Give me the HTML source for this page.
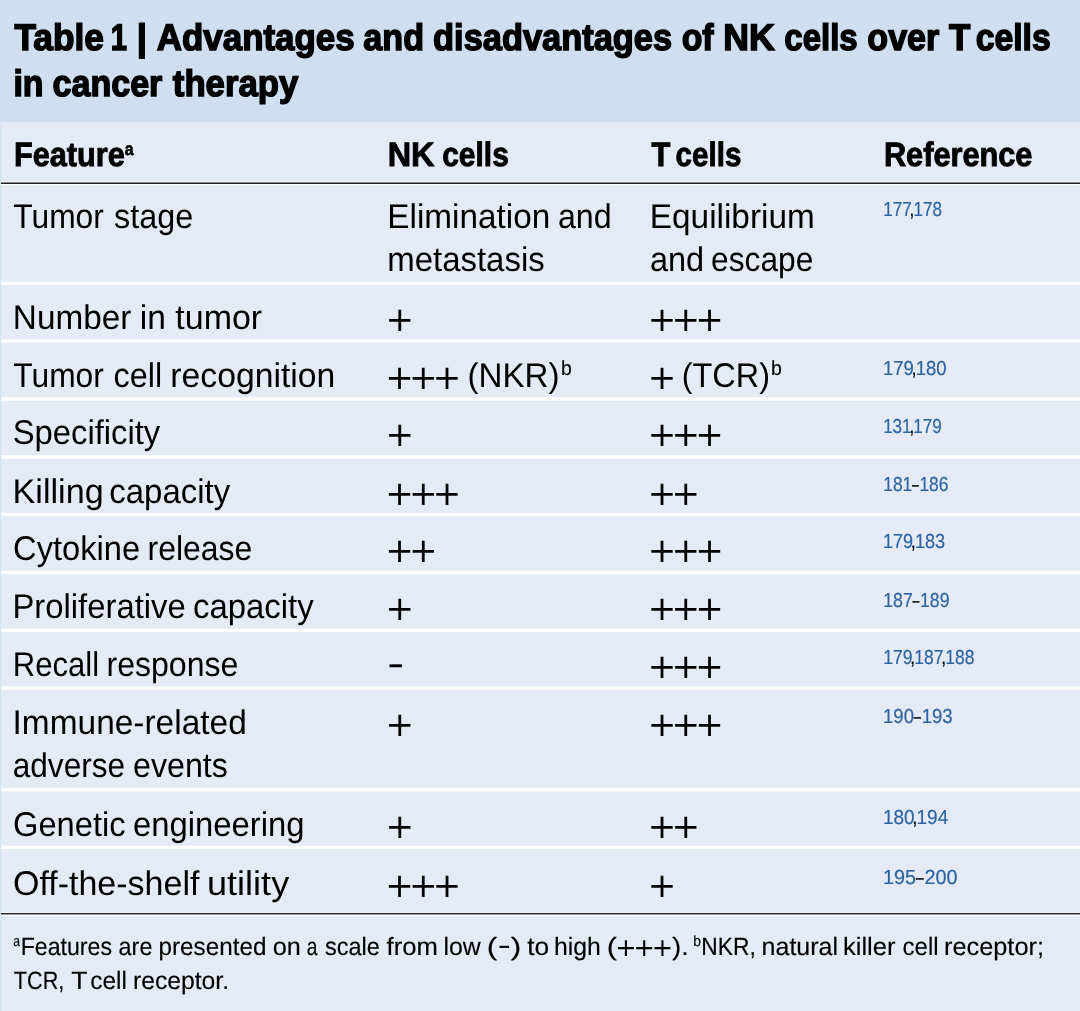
<!DOCTYPE html>
<html lang="en">
<head>
<meta charset="utf-8">
<meta name="viewport" content="width=1080">
<title>Table 1 | Advantages and disadvantages of NK cells over T cells in cancer therapy</title>
<style>

html,body{margin:0;padding:0;background:#e4ebf6}
body{width:1080px;height:1011px;position:relative;overflow:hidden;background:#e4ebf6}
.t{position:absolute;left:0;top:0;white-space:pre;line-height:60px;transform-origin:0 0;margin:0;padding:0;display:block;text-rendering:geometricPrecision}
.t a{color:inherit;text-decoration:none}
.title{font-family:"Liberation Sans", sans-serif;font-size:37.0px;font-weight:700;color:#000;-webkit-text-stroke:1.5px #000}
.head{font-family:"Liberation Sans", sans-serif;font-size:33.8px;font-weight:700;color:#000;-webkit-text-stroke:0.9px #000}
.body{font-family:"Liberation Sans", sans-serif;font-size:34.3px;font-weight:400;color:#000}
.ref{font-family:"Liberation Sans", sans-serif;font-size:20.3px;font-weight:400;color:#000;-webkit-text-stroke:0.2px #000}
.foot{font-family:"Liberation Sans", sans-serif;font-size:25.0px;font-weight:400;color:#000;-webkit-text-stroke:0.15px #000}
.sup{font-family:"Liberation Sans", sans-serif;font-size:20.4px;font-weight:400;color:#000;-webkit-text-stroke:0.15px #000}
.supf{font-family:"Liberation Sans", sans-serif;font-size:14.9px;font-weight:400;color:#000;-webkit-text-stroke:0.15px #000}
.suph{font-family:"Liberation Sans", sans-serif;font-size:18.0px;font-weight:700;color:#000;-webkit-text-stroke:0.6px #000}
.plus{font-family:"DejaVu Sans", sans-serif;font-size:34.0px;font-weight:400;color:#000}
.plusf{font-family:"DejaVu Sans", sans-serif;font-size:25.1px;font-weight:400;color:#000}
.dash{font-family:"Liberation Sans", sans-serif;font-size:40.0px;font-weight:400;color:#000}
.dashf{font-family:"Liberation Sans", sans-serif;font-size:30.0px;font-weight:400;color:#000}
.bg{position:absolute;left:0;top:0;display:block}
.ref a{color:#2f64a3;-webkit-text-stroke-color:#2f64a3}
.ref i{display:inline-block;font-style:normal;transform:scaleX(.7);margin:0 -1.45px}
.ref b{font-weight:inherit;margin:0 -1px 0 -2.6px}
h1,p{margin:0;padding:0;font:inherit}

</style>
</head>
<body>
<svg class="bg" width="1080" height="1011" viewBox="0 0 1080 1011" aria-hidden="true">
<rect x="0" y="0" width="1080" height="1011" fill="#e4ebf6"/>
<rect x="0" y="0" width="1.35" height="1011" fill="#d6e3f2"/>
<rect x="0" y="0" width="1080" height="122.4" fill="#cfdfef"/>
<rect x="0" y="122.4" width="1080" height="1.2" fill="#e3edf6" opacity=".6"/>
<rect x="1.1" y="281.65" width="1079" height="3.3" fill="#fff"/>
<rect x="1.1" y="339.45" width="1079" height="3.3" fill="#fff"/>
<rect x="1.1" y="397.35" width="1079" height="3.3" fill="#fff"/>
<rect x="1.1" y="455.20" width="1079" height="3.3" fill="#fff"/>
<rect x="1.1" y="512.95" width="1079" height="3.3" fill="#fff"/>
<rect x="1.1" y="570.85" width="1079" height="3.3" fill="#fff"/>
<rect x="1.1" y="628.85" width="1079" height="3.3" fill="#fff"/>
<rect x="1.1" y="686.40" width="1079" height="3.3" fill="#fff"/>
<rect x="1.1" y="787.85" width="1079" height="3.3" fill="#fff"/>
<rect x="1.1" y="845.80" width="1079" height="3.3" fill="#fff"/>
<rect x="1.1" y="181.7" width="1079" height="3.5" fill="#fff" opacity=".9"/>
<rect x="0.9" y="182.45" width="1080" height="1.55" fill="#232528"/>
<rect x="1.1" y="911.9" width="1079" height="3.9" fill="#fff" opacity=".95"/>
<rect x="0.9" y="912.95" width="1080" height="1.5" fill="#232528"/>
</svg>
<main class="tbl" role="table" aria-label="Advantages and disadvantages of NK cells over T cells in cancer therapy">
<h1 class="cap">
<span class="t title" style="transform:translate(14.4px,8px) scaleX(0.9533)">Table </span>
<span class="t title" style="transform:translate(110.72px,8px) scaleX(0.7888)">1 </span>
<span class="t title" style="transform:translate(136.82px,8px) scaleX(0.992)">| </span>
<span class="t title" style="transform:translate(156.85px,8px) scaleX(0.943)">Advantages </span>
<span class="t title" style="transform:translate(363.34px,8px) scaleX(0.9233)">and </span>
<span class="t title" style="transform:translate(433.1px,8px) scaleX(0.9295)">disadvantages </span>
<span class="t title" style="transform:translate(681.71px,8px) scaleX(0.9137)">of </span>
<span class="t title" style="transform:translate(723.36px,8px) scaleX(0.9631)">NK </span>
<span class="t title" style="transform:translate(784.33px,8px) scaleX(0.8916)">cells </span>
<span class="t title" style="transform:translate(867.31px,8px) scaleX(0.921)">over </span>
<span class="t title" style="transform:translate(949.08px,8px) scaleX(0.9455)">T </span>
<span class="t title" style="transform:translate(975.76px,8px) scaleX(0.911)">cells </span>
<span class="t title" style="transform:translate(13.38px,54px) scaleX(0.9157)">in </span>
<span class="t title" style="transform:translate(52.61px,54px) scaleX(0.9196)">cancer </span>
<span class="t title" style="transform:translate(172.83px,54px) scaleX(0.9386)">therapy</span>
</h1>
<div class="hd" role="row">
<div class="c1" role="columnheader"><span class="t head" style="transform:translate(13.91px,125px) scaleX(0.9078)">Feature</span><span class="t suph" style="transform:translate(124.78px,119px) scaleX(0.878)">a</span></div>
<div class="c2" role="columnheader"><span class="t head" style="transform:translate(387.67px,125px) scaleX(0.9597)">NK </span><span class="t head" style="transform:translate(442.22px,125px) scaleX(0.8859)">cells</span></div>
<div class="c3" role="columnheader"><span class="t head" style="transform:translate(651.46px,125px) scaleX(0.913)">T </span><span class="t head" style="transform:translate(675.59px,125px) scaleX(0.8743)">cells</span></div>
<div class="c4" role="columnheader"><span class="t head" style="transform:translate(883.91px,125px) scaleX(0.9087)">Reference</span></div>
</div>
<div class="tr" role="row">
<div class="c1" role="rowheader"><span class="t body" style="transform:translate(13.31px,187px) scaleX(0.9254)">Tumor </span><span class="t body" style="transform:translate(114.06px,187px) scaleX(0.9438)">stage</span></div>
<div class="c2" role="cell"><span class="t body" style="transform:translate(387.33px,187px) scaleX(0.9708)">Elimination </span><span class="t body" style="transform:translate(557.89px,187px) scaleX(0.9383)">and </span><span class="t body" style="transform:translate(387.19px,230px) scaleX(0.961)">metastasis</span></div>
<div class="c3" role="cell"><span class="t body" style="transform:translate(649.83px,187px) scaleX(0.9719)">Equilibrium </span><span class="t body" style="transform:translate(649.88px,230px) scaleX(0.9477)">and </span><span class="t body" style="transform:translate(711.11px,230px) scaleX(0.9237)">escape</span></div>
<div class="c4" role="cell"><span class="t ref" style="transform:translate(883.13px,180px) scaleX(0.8436)"><a>177</a><b>,</b><a>178</a></span></div>
</div>
<div class="tr" role="row">
<div class="c1" role="rowheader"><span class="t body" style="transform:translate(12.83px,288px) scaleX(0.972)">Number </span><span class="t body" style="transform:translate(139.8px,288px) scaleX(0.9798)">in </span><span class="t body" style="transform:translate(175.3px,288px) scaleX(0.9905)">tumor</span></div>
<div class="c2" role="cell"><span class="t plus" style="transform:translate(385.4px,290px) scaleX(1.0024);letter-spacing:-4.81px">+</span></div>
<div class="c3" role="cell"><span class="t plus" style="transform:translate(647.79px,290px) scaleX(1.0024);letter-spacing:-4.84px">+++</span></div>
<div class="c4" role="cell"></div>
</div>
<div class="tr" role="row">
<div class="c1" role="rowheader"><span class="t body" style="transform:translate(13.31px,346px) scaleX(0.9254)">Tumor </span><span class="t body" style="transform:translate(113.58px,346px) scaleX(0.9449)">cell </span><span class="t body" style="transform:translate(170.29px,346px) scaleX(0.9832)">recognition</span></div>
<div class="c2" role="cell"><span class="t plus" style="transform:translate(385.3px,348px) scaleX(1.0024);letter-spacing:-4.81px">+++ </span><span class="t body" style="transform:translate(467.45px,346px) scaleX(0.967)">(NKR)</span><span class="t sup" style="transform:translate(561.01px,339px) scaleX(0.9514)">b</span></div>
<div class="c3" role="cell"><span class="t plus" style="transform:translate(647.79px,348px) scaleX(1.0024);letter-spacing:-4.81px">+ </span><span class="t body" style="transform:translate(681.79px,346px) scaleX(0.9447)">(TCR)</span><span class="t sup" style="transform:translate(771.09px,339px) scaleX(0.9546)">b</span></div>
<div class="c4" role="cell"><span class="t ref" style="transform:translate(883.03px,339px) scaleX(0.9121)"><a>179</a><b>,</b><a>180</a></span></div>
</div>
<div class="tr" role="row">
<div class="c1" role="rowheader"><span class="t body" style="transform:translate(12.65px,403px) scaleX(0.9559)">Specificity</span></div>
<div class="c2" role="cell"><span class="t plus" style="transform:translate(385.4px,405px) scaleX(1.0024);letter-spacing:-4.81px">+</span></div>
<div class="c3" role="cell"><span class="t plus" style="transform:translate(647.79px,405px) scaleX(1.0024);letter-spacing:-4.84px">+++</span></div>
<div class="c4" role="cell"><span class="t ref" style="transform:translate(883.13px,397px) scaleX(0.8405)"><a>131</a><b>,</b><a>179</a></span></div>
</div>
<div class="tr" role="row">
<div class="c1" role="rowheader"><span class="t body" style="transform:translate(12.56px,462px) scaleX(0.9954)">Killing </span><span class="t body" style="transform:translate(109.36px,462px) scaleX(0.9595)">capacity</span></div>
<div class="c2" role="cell"><span class="t plus" style="transform:translate(385.3px,464px) scaleX(1.0024);letter-spacing:-4.81px">+++</span></div>
<div class="c3" role="cell"><span class="t plus" style="transform:translate(647.79px,464px) scaleX(1.0024);letter-spacing:-4.82px">++</span></div>
<div class="c4" role="cell"><span class="t ref" style="transform:translate(883.26px,455px) scaleX(0.8558)"><a>181</a><i>–</i><a>186</a></span></div>
</div>
<div class="tr" role="row">
<div class="c1" role="rowheader"><span class="t body" style="transform:translate(13.1px,519px) scaleX(0.9515)">Cytokine </span><span class="t body" style="transform:translate(147.5px,519px) scaleX(0.9315)">release</span></div>
<div class="c2" role="cell"><span class="t plus" style="transform:translate(385.3px,521px) scaleX(1.0024);letter-spacing:-4.81px">++</span></div>
<div class="c3" role="cell"><span class="t plus" style="transform:translate(647.79px,521px) scaleX(1.0024);letter-spacing:-4.84px">+++</span></div>
<div class="c4" role="cell"><span class="t ref" style="transform:translate(883.02px,512px) scaleX(0.8912)"><a>179</a><b>,</b><a>183</a></span></div>
</div>
<div class="tr" role="row">
<div class="c1" role="rowheader"><span class="t body" style="transform:translate(12.47px,577px) scaleX(0.9567)">Proliferative </span><span class="t body" style="transform:translate(193px,577px) scaleX(0.9587)">capacity</span></div>
<div class="c2" role="cell"><span class="t plus" style="transform:translate(385.4px,579px) scaleX(1.0024);letter-spacing:-4.81px">+</span></div>
<div class="c3" role="cell"><span class="t plus" style="transform:translate(647.79px,579px) scaleX(1.0024);letter-spacing:-4.84px">+++</span></div>
<div class="c4" role="cell"><span class="t ref" style="transform:translate(883.22px,571px) scaleX(0.8715)"><a>187</a><i>–</i><a>189</a></span></div>
</div>
<div class="tr" role="row">
<div class="c1" role="rowheader"><span class="t body" style="transform:translate(12.76px,635px) scaleX(0.9058)">Recall </span><span class="t body" style="transform:translate(106.5px,635px) scaleX(0.9341)">response</span></div>
<div class="c2" role="cell"><span class="t dash" style="transform:translate(389.5px,629.4px) scale(0.5618,1.1048)">–</span></div>
<div class="c3" role="cell"><span class="t plus" style="transform:translate(647.79px,637px) scaleX(1.0024);letter-spacing:-4.84px">+++</span></div>
<div class="c4" role="cell"><span class="t ref" style="transform:translate(883.27px,628px) scaleX(0.8638)"><a>179</a><b>,</b><a>187</a><b>,</b><a>188</a></span></div>
</div>
<div class="tr" role="row">
<div class="c1" role="rowheader"><span class="t body" style="transform:translate(12.55px,693px) scaleX(0.975)">Immune-related </span><span class="t body" style="transform:translate(12.74px,736px) scaleX(0.9206)">adverse </span><span class="t body" style="transform:translate(132.99px,736px) scaleX(0.9394)">events</span></div>
<div class="c2" role="cell"><span class="t plus" style="transform:translate(385.4px,695px) scaleX(1.0024);letter-spacing:-4.81px">+</span></div>
<div class="c3" role="cell"><span class="t plus" style="transform:translate(647.79px,695px) scaleX(1.0024);letter-spacing:-4.84px">+++</span></div>
<div class="c4" role="cell"><span class="t ref" style="transform:translate(883.02px,687px) scaleX(0.9147)"><a>190</a><i>–</i><a>193</a></span></div>
</div>
<div class="tr" role="row">
<div class="c1" role="rowheader"><span class="t body" style="transform:translate(13.02px,795px) scaleX(0.9522)">Genetic </span><span class="t body" style="transform:translate(132.96px,795px) scaleX(0.9567)">engineering</span></div>
<div class="c2" role="cell"><span class="t plus" style="transform:translate(385.4px,797px) scaleX(1.0024);letter-spacing:-4.81px">+</span></div>
<div class="c3" role="cell"><span class="t plus" style="transform:translate(647.79px,797px) scaleX(1.0024);letter-spacing:-4.82px">++</span></div>
<div class="c4" role="cell"><span class="t ref" style="transform:translate(882.94px,788px) scaleX(0.936)"><a>180</a><b>,</b><a>194</a></span></div>
</div>
<div class="tr" role="row">
<div class="c1" role="rowheader"><span class="t body" style="transform:translate(12.99px,854px) scaleX(0.9911)">Off-the-shelf </span><span class="t body" style="transform:translate(207.04px,854px) scaleX(1.0508)">utility</span></div>
<div class="c2" role="cell"><span class="t plus" style="transform:translate(385.3px,856px) scaleX(1.0024);letter-spacing:-4.81px">+++</span></div>
<div class="c3" role="cell"><span class="t plus" style="transform:translate(647.79px,856px) scaleX(1.0024);letter-spacing:-4.81px">+</span></div>
<div class="c4" role="cell"><span class="t ref" style="transform:translate(883.02px,848px) scaleX(0.9798)"><a>195</a><i>–</i><a>200</a></span></div>
</div>
<p class="fn" role="note">
<span class="t supf" style="transform:translate(13.22px,912px) scaleX(0.8201)">a</span>
<span class="t foot" style="transform:translate(20.65px,917px) scaleX(0.9262)">Features </span>
<span class="t foot" style="transform:translate(118.61px,917px) scaleX(0.936)">are </span>
<span class="t foot" style="transform:translate(158.55px,917px) scaleX(0.97)">presented </span>
<span class="t foot" style="transform:translate(272.79px,917px) scaleX(1.0099)">on </span>
<span class="t foot" style="transform:translate(306.73px,917px) scaleX(0.7692)">a </span>
<span class="t foot" style="transform:translate(325px,917px) scaleX(0.9404)">scale </span>
<span class="t foot" style="transform:translate(386.54px,917px) scaleX(1.0259)">from </span>
<span class="t foot" style="transform:translate(443.51px,917px) scaleX(0.9944)">low </span>
<span class="t foot" style="transform:translate(486.81px,917px) scaleX(1.2573)">(</span>
<span class="t dashf" style="transform:translate(499.44px,913.17px) scale(0.5739,1.0698)">–</span>
<span class="t foot" style="transform:translate(510.83px,917px) scaleX(1.2631)">) </span>
<span class="t foot" style="transform:translate(527.24px,917px) scaleX(1.0497)">to </span>
<span class="t foot" style="transform:translate(553.99px,917px) scaleX(0.9926)">high </span>
<span class="t foot" style="transform:translate(606.74px,917px) scaleX(1.2103)">(</span>
<span class="t plusf" style="transform:translate(615.31px,918px) scaleX(1.0161);letter-spacing:-3.12px">+++</span>
<span class="t foot" style="transform:translate(672.37px,917px) scaleX(1.068)">).</span>
<span class="t supf" style="transform:translate(693.19px,912px) scaleX(0.9309)">b</span>
<span class="t foot" style="transform:translate(701.28px,917px) scaleX(0.9115)">NKR, </span>
<span class="t foot" style="transform:translate(761.58px,917px) scaleX(0.9996)">natural </span>
<span class="t foot" style="transform:translate(842.98px,917px) scaleX(1.0216)">killer </span>
<span class="t foot" style="transform:translate(902.53px,917px) scaleX(0.9604)">cell </span>
<span class="t foot" style="transform:translate(943.98px,917px) scaleX(1.0137)">receptor; </span>
<span class="t foot" style="transform:translate(13.87px,951px) scaleX(0.8646)">TCR, </span>
<span class="t foot" style="transform:translate(71.27px,951px) scaleX(1.0667)">T </span>
<span class="t foot" style="transform:translate(90.32px,951px) scaleX(0.9771)">cell </span>
<span class="t foot" style="transform:translate(132.92px,951px) scaleX(0.9888)">receptor.</span>
</p>
</main>
</body>
</html>
